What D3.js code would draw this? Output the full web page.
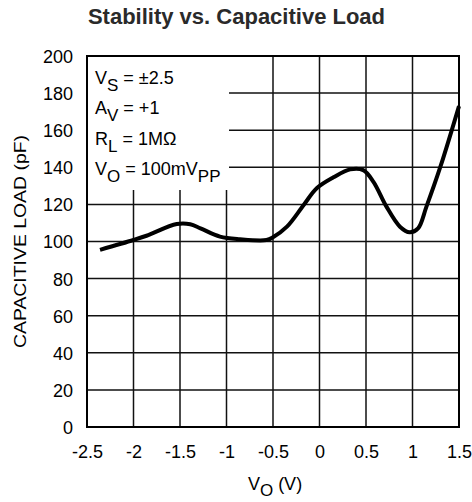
<!DOCTYPE html>
<html>
<head>
<meta charset="utf-8">
<script src="https://cdn.jsdelivr.net/npm/d3@7"></script>
<style>
  body { margin: 0; background: #fff; }
  text { font-family: "Liberation Sans", Arial, sans-serif; fill: #000; }
</style>
</head>
<body>
<div id="chart"></div>
<script>
// chart data
var voltage = [-2.36, -2.0, -1.86, -1.535, -1.39, -1.28, -1.07, -0.855, -0.57, -0.5, -0.35, -0.17, -0.03, 0.15, 0.33, 0.47, 0.58, 0.72, 0.865, 0.97, 1.06, 1.15, 1.3, 1.5];
var capLoad = [95.5, 100.8, 103.1, 109.4, 109.3, 107.1, 102.6, 101.2, 100.8, 102.3, 108, 119.7, 128.7, 134.6, 138.9, 138.5, 132.2, 118.8, 108, 105, 107.1, 118.8, 140.3, 173];
var xTicks = [-2.5, -2, -1.5, -1, -0.5, 0, 0.5, 1, 1.5];
var yTicks = [0, 20, 40, 60, 80, 100, 120, 140, 160, 180, 200];
var notes = [
  ["V", "S", " = \u00b12.5", ""],
  ["A", "V", " = +1", ""],
  ["R", "L", " = 1M\u03a9", ""],
  ["V", "O", " = 100mV", "PP"]
];

var svgWidth = 472;
var svgHeight = 502;
var margin = { top: 56, bottom: 75, right: 13, left: 87 };
var width = svgWidth - margin.left - margin.right;
var height = svgHeight - margin.top - margin.bottom;

var svg = d3.select("#chart")
  .append("svg")
  .attr("width", svgWidth)
  .attr("height", svgHeight);

var chartGroup = svg.append("g")
  .attr("transform", `translate(${margin.left}, ${margin.top})`);

var xScale = d3.scaleLinear().domain([-2.5, 1.5]).range([0, width]);
var yScale = d3.scaleLinear().domain([0, 200]).range([height, 0]);

// grid
chartGroup.selectAll(".vgrid")
  .data(xTicks)
  .enter()
  .append("line")
  .attr("x1", d => xScale(d)).attr("x2", d => xScale(d))
  .attr("y1", 0).attr("y2", height)
  .attr("stroke", "#111").attr("stroke-width", 1.5);

chartGroup.selectAll(".hgrid")
  .data(yTicks)
  .enter()
  .append("line")
  .attr("x1", 0).attr("x2", width)
  .attr("y1", d => yScale(d)).attr("y2", d => yScale(d))
  .attr("stroke", "#111").attr("stroke-width", 1.5);

// white box behind the conditions text
chartGroup.append("rect")
  .attr("x", 0).attr("y", 0)
  .attr("width", 142).attr("height", 134)
  .attr("fill", "#fff");

// frame
chartGroup.append("rect")
  .attr("x", 0).attr("y", 0)
  .attr("width", width).attr("height", height)
  .attr("fill", "none").attr("stroke", "#000").attr("stroke-width", 2);

// axes (labels only)
var bottomAxis = d3.axisBottom(xScale).tickValues(xTicks).tickSize(0).tickPadding(18)
  .tickFormat(d => String(d));
var leftAxis = d3.axisLeft(yScale).tickValues(yTicks).tickSize(0).tickPadding(14);

var xg = chartGroup.append("g")
  .attr("transform", `translate(0, ${height})`)
  .call(bottomAxis);
var yg = chartGroup.append("g").call(leftAxis);
[xg, yg].forEach(function(g) {
  g.select(".domain").remove();
  g.selectAll("text")
    .style("font-size", "18px")
    .style("font-family", "Liberation Sans, Arial, sans-serif")
    .style("fill", "#000");
});
yg.selectAll("text").attr("dy", "0.36em");

// curve
var line = d3.line()
  .x((d, i) => xScale(voltage[i]))
  .y(d => yScale(d))
  .curve(d3.curveCatmullRom);

chartGroup.append("path")
  .datum(capLoad)
  .attr("d", line)
  .attr("fill", "none")
  .attr("stroke", "#000")
  .attr("stroke-width", 4)
  .attr("stroke-linejoin", "round");

// conditions text
var noteText = chartGroup.selectAll(".note")
  .data(notes)
  .enter()
  .append("text")
  .attr("x", 8)
  .attr("y", (d, i) => 27.5 + i * 30.6)
  .style("font-size", "18px");
noteText.append("tspan").text(d => d[0]);
noteText.append("tspan").attr("dy", 7).style("font-size", "17px").text(d => d[1]);
noteText.append("tspan").attr("dy", -7).text(d => d[2]);
noteText.append("tspan").attr("dy", 7).style("font-size", "17px").text(d => d[3]);

// title
svg.append("text")
  .attr("x", 236.5)
  .attr("y", 23.5)
  .attr("text-anchor", "middle")
  .style("font-size", "22px")
  .style("font-weight", "bold")
  .style("fill", "#2a2a2a")
  .text("Stability vs. Capacitive Load");

// axis titles
var xTitle = svg.append("text")
  .attr("x", 275)
  .attr("y", 490)
  .attr("text-anchor", "middle")
  .style("font-size", "18px");
xTitle.append("tspan").text("V");
xTitle.append("tspan").attr("dy", 6).style("font-size", "17px").text("O");
xTitle.append("tspan").attr("dy", -6).text(" (V)");

svg.append("text")
  .attr("transform", "rotate(-90)")
  .attr("x", -241.5)
  .attr("y", 26)
  .attr("text-anchor", "middle")
  .attr("textLength", 213)
  .attr("lengthAdjust", "spacingAndGlyphs")
  .style("font-size", "17px")
  .text("CAPACITIVE LOAD (pF)");
</script>
</body>
</html>
